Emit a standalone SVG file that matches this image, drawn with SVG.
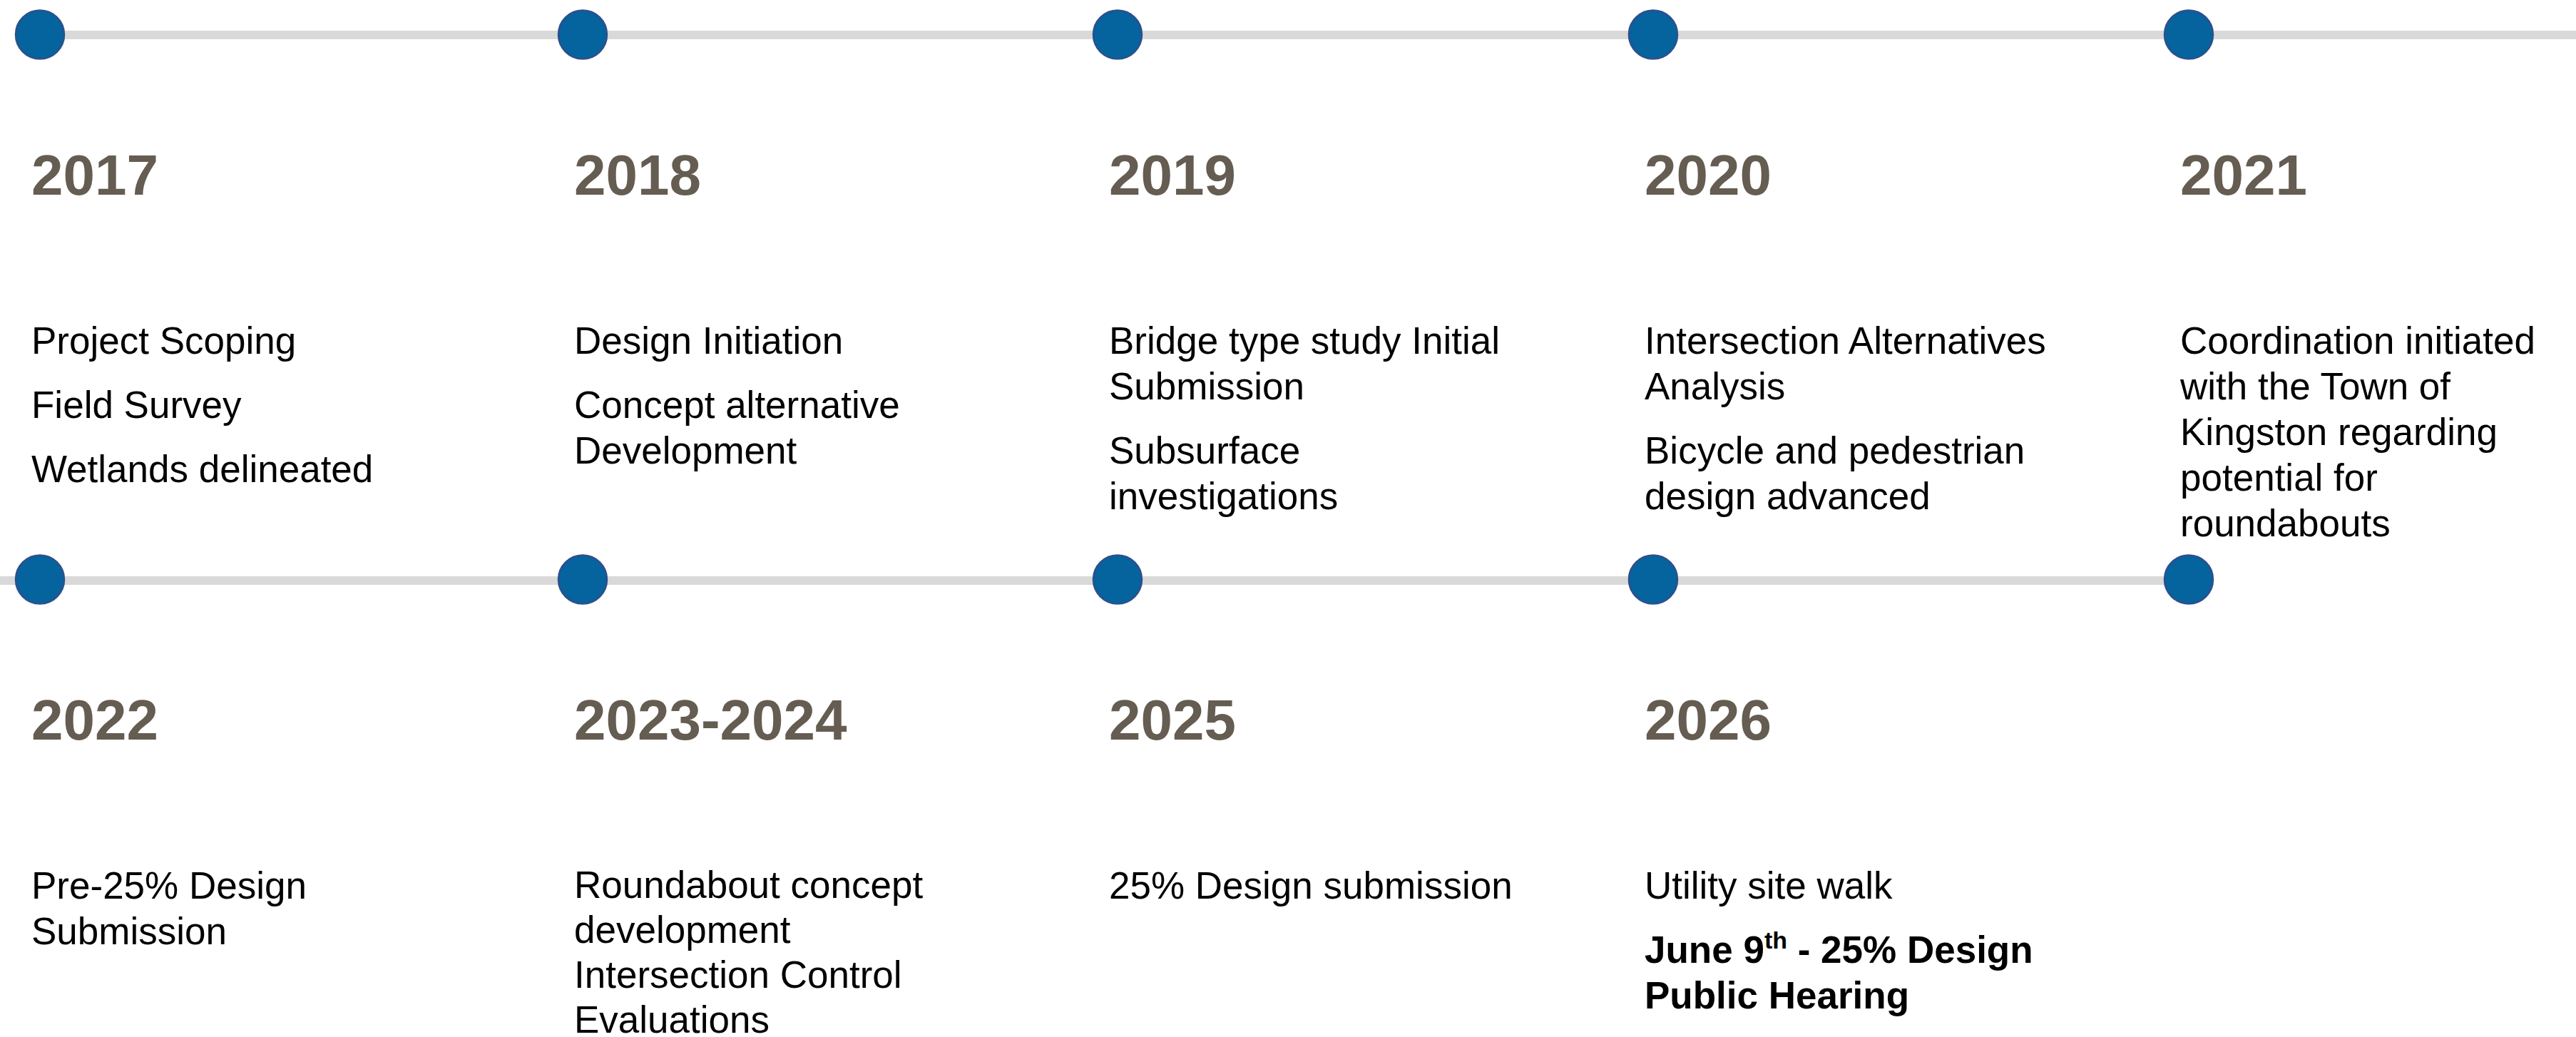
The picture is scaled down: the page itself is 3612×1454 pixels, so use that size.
<svg xmlns="http://www.w3.org/2000/svg" width="3612" height="1454" viewBox="0 0 3612 1454">
<style>
.track{stroke:#d9d9d9;stroke-width:12;fill:none}
.dot{fill:#05639e;stroke:#2e4f8c;stroke-width:2.5}
.year{font-family:"Liberation Sans",Arial,sans-serif;font-weight:bold;font-size:80px;fill:#655c52}
.body{font-family:"Liberation Sans",Arial,sans-serif;font-size:53px;fill:#000}
.bold{font-weight:bold}
</style>
<rect width="3612" height="1454" fill="#fff"/>
<g id="connectors">
<line class="track" x1="56" y1="49" x2="3612" y2="49"/>
<line class="track" x1="0" y1="814" x2="3069" y2="814"/>
</g>
<g id="n2017">
<circle class="dot" cx="56" cy="48.5" r="34"/>
<text class="year" x="44" y="273">2017</text>
<text class="body" x="44" y="496">Project Scoping</text>
<text class="body" x="44" y="586">Field Survey</text>
<text class="body" x="44" y="676">Wetlands delineated</text>
</g>
<g id="n2018">
<circle class="dot" cx="817" cy="48.5" r="34"/>
<text class="year" x="805" y="273">2018</text>
<text class="body" x="805" y="496">Design Initiation</text>
<text class="body" x="805" y="586">Concept alternative</text>
<text class="body" x="805" y="650">Development</text>
</g>
<g id="n2019">
<circle class="dot" cx="1567" cy="48.5" r="34"/>
<text class="year" x="1555" y="273">2019</text>
<text class="body" x="1555" y="496">Bridge type study Initial</text>
<text class="body" x="1555" y="560">Submission</text>
<text class="body" x="1555" y="650">Subsurface</text>
<text class="body" x="1555" y="714">investigations</text>
</g>
<g id="n2020">
<circle class="dot" cx="2318" cy="48.5" r="34"/>
<text class="year" x="2306" y="273">2020</text>
<text class="body" x="2306" y="496">Intersection Alternatives</text>
<text class="body" x="2306" y="560">Analysis</text>
<text class="body" x="2306" y="650">Bicycle and pedestrian</text>
<text class="body" x="2306" y="714">design advanced</text>
</g>
<g id="n2021">
<circle class="dot" cx="3069" cy="48.5" r="34"/>
<text class="year" x="3057" y="273">2021</text>
<text class="body" x="3057" y="496">Coordination initiated</text>
<text class="body" x="3057" y="560">with the Town of</text>
<text class="body" x="3057" y="624">Kingston regarding</text>
<text class="body" x="3057" y="688">potential for</text>
<text class="body" x="3057" y="752">roundabouts</text>
</g>
<g id="n2022">
<circle class="dot" cx="56" cy="812.5" r="34"/>
<text class="year" x="44" y="1037">2022</text>
<text class="body" x="44" y="1260">Pre-25% Design</text>
<text class="body" x="44" y="1324">Submission</text>
</g>
<g id="n2023">
<circle class="dot" cx="817" cy="812.5" r="34"/>
<text class="year" x="805" y="1037">2023-2024</text>
<text class="body" x="805" y="1259">Roundabout concept</text>
<text class="body" x="805" y="1322">development</text>
<text class="body" x="805" y="1385">Intersection Control</text>
<text class="body" x="805" y="1448">Evaluations</text>
</g>
<g id="n2025">
<circle class="dot" cx="1567" cy="812.5" r="34"/>
<text class="year" x="1555" y="1037">2025</text>
<text class="body" x="1555" y="1260">25% Design submission</text>
</g>
<g id="n2026">
<circle class="dot" cx="2318" cy="812.5" r="34"/>
<text class="year" x="2306" y="1037">2026</text>
<text class="body" x="2306" y="1260">Utility site walk</text>
<text class="body bold" x="2306" y="1350">June 9<tspan font-size="34" dy="-20">th</tspan><tspan dy="20"> - 25% Design</tspan></text>
<text class="body bold" x="2306" y="1414">Public Hearing</text>
</g>
<g id="n2027">
<circle class="dot" cx="3069" cy="812.5" r="34"/>
</g>
</svg>
